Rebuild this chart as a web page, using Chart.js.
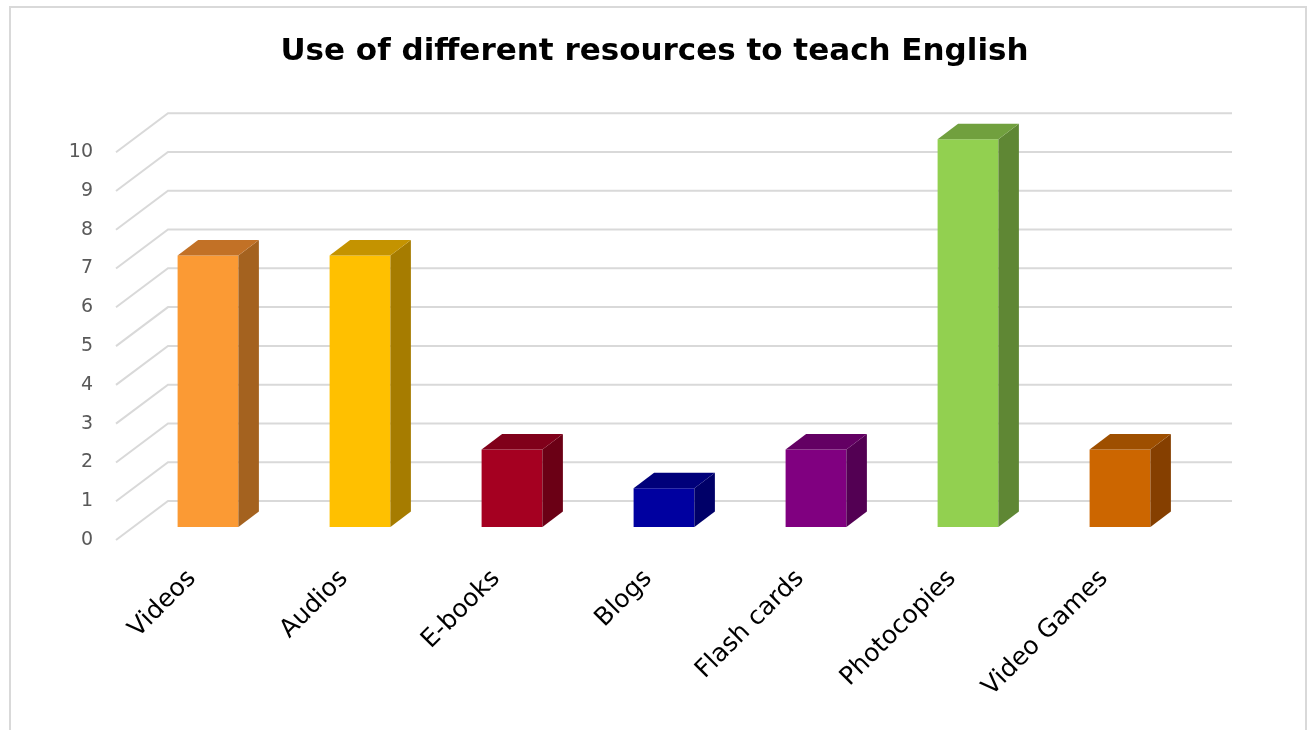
<!DOCTYPE html>
<html>
<head>
<meta charset="utf-8">
<script src="https://cdn.jsdelivr.net/npm/chart.js@4.4.1/dist/chart.umd.min.js"></script>
<style>
  html, body { margin: 0; padding: 0; background: #ffffff; }
  #wrap { width: 1309px; height: 730px; position: relative; }
</style>
</head>
<body>
<div id="wrap"><canvas id="c"></canvas></div>
<script>
// Chart data
const categories = ['Videos', 'Audios', 'E-books', 'Blogs', 'Flash cards', 'Photocopies', 'Video Games'];
const values = [7, 7, 2, 1, 2, 10, 2];
const yTicks = [0, 1, 2, 3, 4, 5, 6, 7, 8, 9, 10];

// Face colours for each box: front, right side, top
const frontColors = ['#FB9A34', '#FFC000', '#A50021', '#0000A0', '#800080', '#92D050', '#CC6600'];
const sideColors  = ['#A4621F', '#A67C00', '#6B0015', '#000068', '#530053', '#5F8734', '#853F00'];
const topColors   = ['#C27126', '#C49300', '#80001A', '#00007A', '#630063', '#71A03E', '#9E4F00'];

// Oblique projection of the depth axis
const WALL_DX = 52, WALL_DY = 39;     // front edge -> back wall
const BAR_DX0 = 16, BAR_DY0 = 13;     // front edge -> front face of the boxes
const BAR_DX = 20.5, BAR_DY = 15.5;   // thickness of each box

const FONT = '"DejaVu Sans", sans-serif';

const depthPlugin = {
  id: 'depth3d',
  beforeDraw(chart) {
    const { ctx, width, height } = chart;
    ctx.save();
    ctx.fillStyle = '#ffffff';
    ctx.fillRect(0, 0, width, height);
    ctx.strokeStyle = '#d9d9d9';
    ctx.lineWidth = 2;
    ctx.strokeRect(10, 7, 1296, height + 20);
    ctx.restore();
  },
  beforeDatasetsDraw(chart) {
    const { ctx, chartArea: a, scales: { y } } = chart;
    ctx.save();
    ctx.strokeStyle = '#d9d9d9';
    ctx.lineWidth = 2;
    y.ticks.forEach(t => {
      const py = y.getPixelForValue(t.value);
      ctx.beginPath();
      ctx.moveTo(a.left, py);
      ctx.lineTo(a.left + WALL_DX, py - WALL_DY);
      ctx.lineTo(a.right + WALL_DX, py - WALL_DY);
      ctx.stroke();
    });
    ctx.restore();
    // boxes stand one third of the way back on the floor
    ctx.save();
    ctx.translate(BAR_DX0, -BAR_DY0);
  },
  afterDatasetsDraw(chart) {
    const { ctx } = chart;
    const meta = chart.getDatasetMeta(0);
    meta.data.forEach((bar, i) => {
      const { x, y, base, width } = bar.getProps(['x', 'y', 'base', 'width'], true);
      const l = x - width / 2, r = x + width / 2;
      ctx.fillStyle = sideColors[i];
      ctx.beginPath();
      ctx.moveTo(r, y);
      ctx.lineTo(r + BAR_DX, y - BAR_DY);
      ctx.lineTo(r + BAR_DX, base - BAR_DY);
      ctx.lineTo(r, base);
      ctx.closePath();
      ctx.fill();
      ctx.fillStyle = topColors[i];
      ctx.beginPath();
      ctx.moveTo(l, y);
      ctx.lineTo(l + BAR_DX, y - BAR_DY);
      ctx.lineTo(r + BAR_DX, y - BAR_DY);
      ctx.lineTo(r, y);
      ctx.closePath();
      ctx.fill();
    });
    ctx.restore();
  }
};

new Chart(document.getElementById('c'), {
  type: 'bar',
  data: {
    labels: categories,
    datasets: [{
      data: values,
      backgroundColor: frontColors,
      borderWidth: 0,
      barPercentage: 0.4,
      categoryPercentage: 1.0,
      clip: false
    }]
  },
  options: {
    responsive: true,
    maintainAspectRatio: false,
    animation: false,
    layout: { padding: 0 },
    plugins: {
      legend: { display: false },
      tooltip: { enabled: false },
      title: {
        display: true,
        text: 'Use of different resources to teach English',
        color: '#000000',
        font: { family: FONT, size: 31, weight: 'bold' },
        padding: { top: 33, bottom: 82 }
      }
    },
    scales: {
      x: {
        grid: { display: false },
        border: { display: false },
        ticks: {
          color: '#000000',
          font: { family: FONT, size: 25 },
          minRotation: 45,
          maxRotation: 45,
          padding: 16,
          autoSkip: false
        },
        afterFit(scale) { scale.height = 190; }
      },
      y: {
        min: yTicks[0],
        max: yTicks[yTicks.length - 1],
        grid: { display: false },
        border: { display: false },
        afterBuildTicks(scale) { scale.ticks = yTicks.map(v => ({ value: v })); },
        ticks: {
          color: '#595959',
          font: { family: FONT, size: 19 },
          padding: 15
        },
        afterFit(scale) { scale.width = 116; }
      },
      // empty right-hand strip that holds the back wall's overhang
      wall: {
        type: 'linear',
        position: 'right',
        grid: { display: false },
        border: { display: false },
        ticks: { display: false },
        afterFit(scale) { scale.width = 129; }
      }
    }
  },
  plugins: [depthPlugin]
});
</script>
</body>
</html>
